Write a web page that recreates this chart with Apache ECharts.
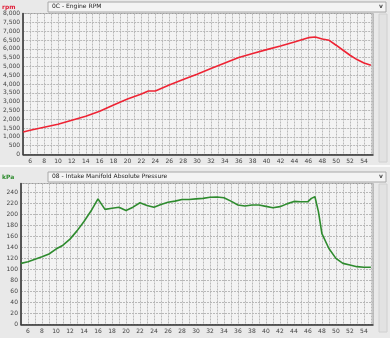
<!DOCTYPE html>
<html><head><meta charset="utf-8">
<script src="https://cdn.jsdelivr.net/npm/echarts@6/dist/echarts.min.js"></script>
<style>html,body{margin:0;padding:0;background:#e9e9e9}#c{width:390px;height:338px}</style>
</head><body><div id="c"></div>
<script>
// Engine RPM (top)
const rpmX = [5,6,8,10,12,14,16,18,20,22,23,24,26,28,30,32,34,36,38,40,42,44,46,47,48,49,50,51,52,53,54,55];
const rpm  = [1280,1380,1550,1720,1945,2170,2455,2810,3150,3435,3605,3605,3945,4250,4550,4875,5195,5500,5725,5950,6160,6385,6630,6670,6555,6480,6200,5915,5630,5385,5195,5065];
// Intake Manifold Absolute Pressure (bottom)
const mapX = [5,6,8,9,10,11,12,13,14,15,16,17,18,19,20,21,22,23,24,25,26,27,28,29,30,31,32,33,34,35,36,37,38,39,40,41,42,43,44,45,46,46.5,47,47.5,48,49,50,51,52,53,54,55];
const map  = [111,114,123,128,137,144,155,170,187,206,228,209,211,213,207,213,221,216,213,218,222,224,227,227,228,229,231,231.5,230,224,217,215,217,217,214.5,212,214,219,223.5,223,223,229,232,205,165,138,120,111,108,105,104,104];
const rpmTitle = '0C - Engine RPM';
const mapTitle = '08 - Intake Manifold Absolute Pressure';

const chart = echarts.init(document.getElementById('c'), null, {renderer:'canvas'});
const font = 'Tahoma, "DejaVu Sans", sans-serif';
function xAxis(i){
  return {type:'value', gridIndex:i, min:5, max:55.3, interval:1,
    axisLine:{show:true, onZero:false, lineStyle:{color:'#333', width:1.5}},
    axisTick:{show:false},
    axisLabel:{fontSize:6, color:'#444', fontFamily:font, margin:4,
      formatter:v=> (Number.isInteger(v) && v%2===0) ? String(v) : ''},
    splitLine:{show:true, lineStyle:{color:'#b8b8b8', type:[2,1], width:1}}};
}
function yAxis(i,max,interval,hideAbove){
  return {type:'value', gridIndex:i, min:0, max:max, interval:interval,
    axisLine:{show:true, lineStyle:{color:'#333', width:1.5}},
    axisTick:{show:false},
    axisLabel:{fontSize:6, color:'#444', fontFamily:font, margin:3,
      formatter:v=> v>hideAbove ? '' : v.toLocaleString('en-US')},
    splitLine:{show:true, lineStyle:{color:'#b8b8b8', type:[2,1], width:1}}};
}
chart.setOption({
  backgroundColor:'#e9e9e9',
  animation:false,
  graphic:[
    {type:'rect', shape:{x:0,y:0,width:390,height:338}, style:{fill:'#e9e9e9'}, z:-10},
    {type:'line', shape:{x1:0,y1:166,x2:390,y2:166}, style:{stroke:'#fafafa', lineWidth:2}},
    {type:'rect', shape:{x:48,y:2,width:338,height:10}, style:{fill:'#f4f4f4', stroke:'#a8a8a8', lineWidth:1}},
    {type:'rect', shape:{x:48,y:172,width:338,height:10}, style:{fill:'#f4f4f4', stroke:'#a8a8a8', lineWidth:1}},
    {type:'text', left:52, top:3.5, style:{text:rpmTitle, fontSize:6, fill:'#222', fontFamily:font}},
    {type:'text', left:52, top:173.5, style:{text:mapTitle, fontSize:6, fill:'#222', fontFamily:font}},
    {type:'text', left:379, top:3, style:{text:'v', fontSize:6, fill:'#444', fontFamily:font, fontWeight:'bold'}},
    {type:'text', left:379, top:173, style:{text:'v', fontSize:6, fill:'#444', fontFamily:font, fontWeight:'bold'}},
    {type:'text', left:2, top:4, style:{text:'rpm', fontSize:6, fill:'#e0203a', fontFamily:font, fontWeight:'bold'}},
    {type:'text', left:2, top:174, style:{text:'kPa', fontSize:6, fill:'#2a8a2a', fontFamily:font, fontWeight:'bold'}},
    {type:'rect', shape:{x:379,y:14,width:8,height:148}, style:{fill:'#e2e2e2', stroke:'#d0d0d0', lineWidth:1}},
    {type:'rect', shape:{x:379,y:184,width:8,height:148}, style:{fill:'#e2e2e2', stroke:'#d0d0d0', lineWidth:1}}
  ],
  grid:[
    {left:21, right:17, top:13.5, height:141, show:true, backgroundColor:'#f3f3f3', borderColor:'#9a9a9a', borderWidth:1},
    {left:21, right:17, top:183.5, height:141, show:true, backgroundColor:'#f3f3f3', borderColor:'#9a9a9a', borderWidth:1}
  ],
  xAxis:[xAxis(0), xAxis(1)],
  yAxis:[yAxis(0,8000,500,8000), yAxis(1,256,20,250)],
  series:[
    {type:'line', xAxisIndex:0, yAxisIndex:0, data:rpmX.map((x,i)=>[x,rpm[i]]),
      showSymbol:false, lineStyle:{color:'#ee2434', width:1.6}, silent:true},
    {type:'line', xAxisIndex:1, yAxisIndex:1, data:mapX.map((x,i)=>[x,map[i]]),
      showSymbol:false, lineStyle:{color:'#2e8b2e', width:1.6}, silent:true}
  ]
});
</script></body></html>
